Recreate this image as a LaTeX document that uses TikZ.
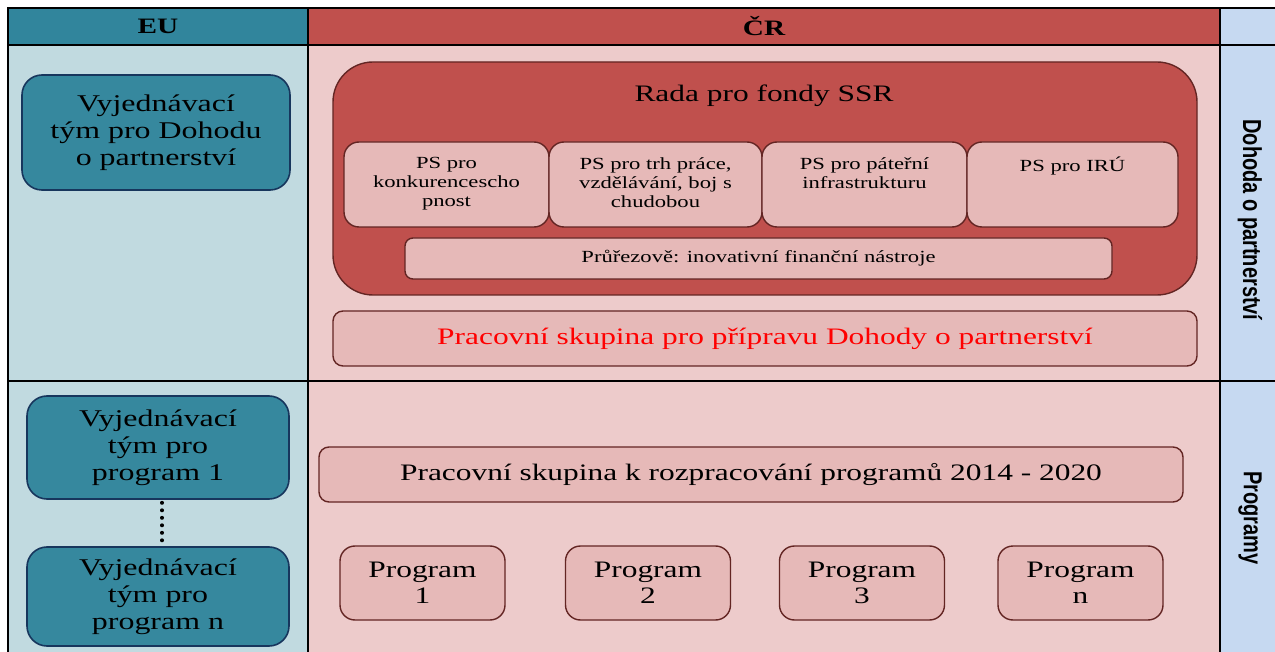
\documentclass[tikz,border=0pt]{standalone}
\usepackage{fontspec}
\setmainfont[FakeStretch=1.33]{Liberation Serif}
\newfontfamily\sidefont{Liberation Sans}
\usetikzlibrary{positioning}

\definecolor{euhead}{RGB}{49,133,156}
\definecolor{eubody}{RGB}{193,218,224}
\definecolor{crhead}{RGB}{192,80,77}
\definecolor{crbody}{RGB}{237,203,203}
\definecolor{sidecol}{RGB}{198,217,241}
\definecolor{tealfill}{RGB}{54,136,158}
\definecolor{tealline}{RGB}{23,54,93}
\definecolor{pinkfill}{RGB}{230,185,184}
\definecolor{redline}{RGB}{99,37,35}

\tikzset{
  grid/.style={black,line width=1pt},
  tealbox/.style={draw=tealline,fill=tealfill,line width=0.8pt,rounded corners=10pt,align=center,
    font=\fontsize{12}{13.5}\selectfont},
  pinkbox/.style={draw=redline,fill=pinkfill,line width=0.7pt},
  dots/.style={black,line width=2pt,line cap=round,dash pattern=on 0pt off 3.75pt},
  headtxt/.style={font=\bfseries\fontsize{11}{13}\selectfont},
  bigtxt/.style={align=center,font=\fontsize{11.8}{13}\selectfont},
  smalltxt/.style={align=center,font=\fontsize{8.5}{9.5}\selectfont},
  sidetxt/.style={rotate=-90,font=\sidefont\bfseries\fontsize{10}{12}\selectfont}
}

\begin{document}
\begin{tikzpicture}[x=0.5pt,y=-0.5pt]
\tikzstyle{every node}+=[inner sep=0pt]
\useasboundingbox (0,0) rectangle (1275,652);
\fill [eubody] (8,45) rectangle (308,652);
\fill [euhead] (8,8) rectangle (308,45);
\fill [crbody] (308,45) rectangle (1220,652);
\fill [crhead] (308,8) rectangle (1220,45);
\fill [sidecol] (1220,8) rectangle (1275,652);
\draw [grid] (8,652) -- (8,8) -- (1275,8);
\draw [grid] (8,45) -- (1275,45);
\draw [grid] (8,381) -- (1275,381);
\draw [grid] (308,8) -- (308,652);
\draw [grid] (1220,8) -- (1220,652);
\node [headtxt] (eu) at (158,26) {EU};
\node [headtxt] (cr) at (764,26) {ČR};
\node [sidetxt] (dohodaside) at (1250,220) {\scalebox{1}[1.3]{Dohoda o partnerství}};
\node [sidetxt] (programyside) at (1250,518) {\scalebox{1}[1.3]{Programy}};

\node [tealbox,minimum width=134pt,minimum height=57.5pt] (teamdohoda) at (156,132.5)
  {Vyjednávací\\tým pro Dohodu\\o partnerství};
\node [tealbox,minimum width=131pt,minimum height=51.5pt] (teamone) at (158,447.5)
  {Vyjednávací\\tým pro\\program 1};
\node [tealbox,minimum width=131pt,minimum height=49.5pt] (teamn) at (158,596.5)
  {Vyjednávací\\tým pro\\program n};
\draw [dots] ([xshift=2pt,yshift=-1.5pt]teamone.south) -- ([xshift=2pt]teamn.north);

\node [pinkbox,fill=crhead,rounded corners=20pt,minimum width=432pt,minimum height=116.5pt] (rada) at (765,178.5) {};
\node [bigtxt] (radatitle) at (764,96) {Rada pro fondy SSR};
\foreach \cx/\w/\nm/\txt in {446.5/102.5/pskonk/{PS pro\\konkurencescho\\pnost},
    655.5/106.5/pstrh/{PS pro trh práce,\\vzdělávání, boj s\\chudobou},
    864.5/102.5/psinfra/{PS pro páteřní\\infrastrukturu},
    1072.5/105.5/psiru/{PS pro IRÚ}}
{
  \node [pinkbox,rounded corners=7.5pt,minimum width=\w pt,minimum height=42.5pt] (\nm) at (\cx,184.5) {};
  \node [smalltxt,anchor=north] (\nm txt) at (\cx,157) {\txt};
}
\node [pinkbox,rounded corners=4pt,minimum width=353.5pt,minimum height=20.5pt,smalltxt] (prurez) at (758.5,258.5)
  {Průřezově: inovativní finanční nástroje};
\node [pinkbox,rounded corners=5pt,minimum width=432pt,minimum height=27.5pt,bigtxt,text=red] (pspriprava) at (765,338.5)
  {Pracovní skupina pro přípravu Dohody o partnerství};

\node [pinkbox,rounded corners=5pt,minimum width=432pt,minimum height=27.5pt,bigtxt] (psprogramy) at (751,474.5)
  {Pracovní skupina k rozpracování programů 2014 - 2020};
\foreach \cx/\nm/\num in {422.5/progone/1,648/progtwo/2,862/progthree/3,1080.5/progn/n}
{
  \node [pinkbox,rounded corners=7.5pt,minimum width=82.5pt,minimum height=37pt,bigtxt] (\nm) at (\cx,583)
    {Program\\\num};
}
\end{tikzpicture}
\end{document}
